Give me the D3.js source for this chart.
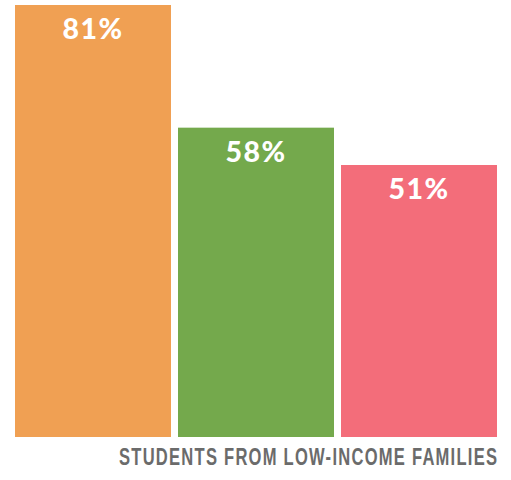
<!DOCTYPE html>
<html>
<head>
<meta charset="utf-8">
<script src="https://cdn.jsdelivr.net/npm/d3@7"></script>
<style>
  body { margin: 0; background: #fff; }
</style>
</head>
<body>
<div id="chart"></div>
<script>
let groups = ['a', 'b', 'c']
let values = [81, 58, 51]
let colors = ['#F0A053', '#74A94C', '#F36D7A']
let axisTitle = 'STUDENTS FROM LOW-INCOME FAMILIES'

let width = 511, height = 480;

let svg = d3.select('#chart')
            .append('svg')
            .attr('width', width)
            .attr('height', height);

let x = d3.scaleBand()
          .domain(groups)
          .range([15, 497])
          .paddingInner(0.043)
          .paddingOuter(0);

let y = d3.scaleLinear()
          .domain([0, 81])
          .range([437, 5]);

let data = groups.map(function(g, i) { return {g: g, v: values[i], c: colors[i]}; });

svg.selectAll('.bar')
   .data(data)
   .enter().append('rect')
    .attr('class', 'bar')
    .attr('x', function(d) { return x(d.g); })
    .attr('width', x.bandwidth())
    .attr('y', function(d) { return y(d.v); })
    .attr('height', function(d) { return y(0) - y(d.v); })
    .attr('fill', function(d) { return d.c; });

svg.selectAll('.lbl')
   .data(data)
   .enter().append('text')
    .attr('class', 'lbl')
    .attr('x', function(d) { return x(d.g) + x.bandwidth() / 2; })
    .attr('y', function(d) { return y(d.v) + 34; })
    .attr('text-anchor', 'middle')
    .attr('fill', '#fff')
    .style('font-family', 'Lato, "Open Sans", sans-serif')
    .style('font-weight', 900)
    .style('font-size', '28.5px')
    .style('letter-spacing', '1.5px')
    .text(function(d) { return d.v + '%'; });

// axis title, bottom right: condensed glyphs, spread out to the reference width
let sx = 0.72, targetW = 378;
let tg = svg.append('g')
   .attr('transform', 'translate(119,465) scale(' + sx + ',1)');

let title = tg.append('text')
   .attr('x', 0)
   .attr('y', 0)
   .attr('fill', '#6b6b6b')
   .style('font-family', '"Liberation Sans", Arial, sans-serif')
   .style('font-weight', 'bold')
   .style('font-size', '23px')
   .text(axisTitle);

let natural = title.node().getComputedTextLength();
let spacing = (targetW / sx - natural) / (axisTitle.length - 1);
title.style('letter-spacing', spacing + 'px');
</script>
</body>
</html>
